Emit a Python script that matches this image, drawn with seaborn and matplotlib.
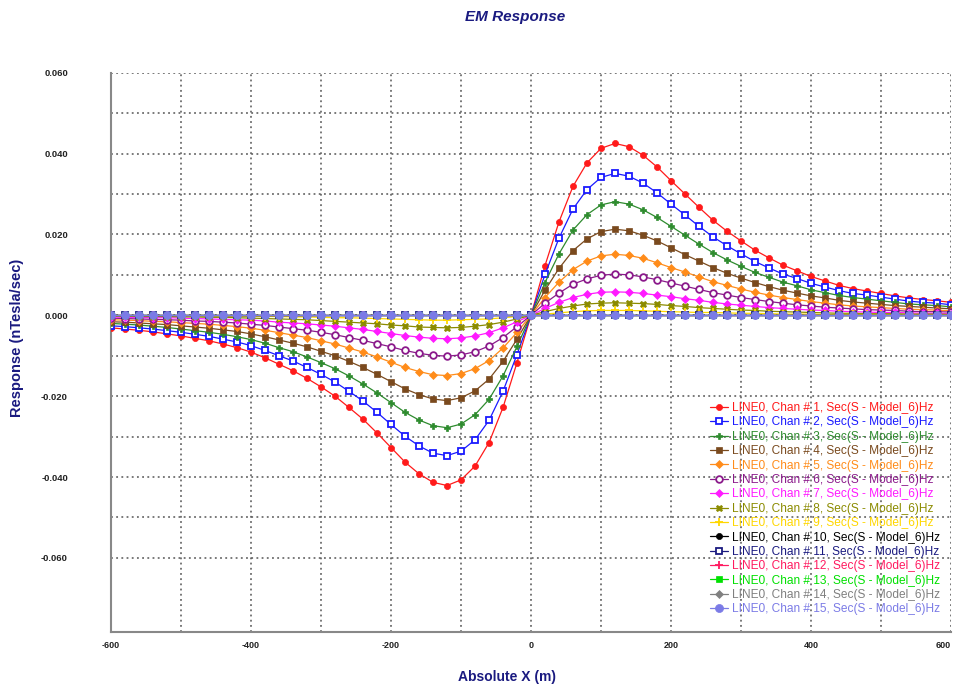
import numpy as np
import pandas as pd
import matplotlib
matplotlib.use("Agg")
import matplotlib.pyplot as plt
from matplotlib.ticker import MultipleLocator, FixedLocator, FormatStrFormatter
import seaborn as sns

# ---------------- data ----------------
x_m = list(range(-600, 601, 20))

chan1 = [-0.0031, -0.0034, -0.0037, -0.0041, -0.0046, -0.0051, -0.0057, -0.0063, -0.0071, -0.0080,
         -0.0091, -0.0105, -0.0121, -0.0137, -0.0156, -0.0177, -0.0200, -0.0228, -0.0257, -0.0291,
         -0.0327, -0.0363, -0.0392, -0.0413, -0.0421, -0.0407, -0.0373, -0.0315, -0.0228, -0.0117,
         0.0,
         0.0123, 0.0231, 0.0319, 0.0377, 0.0413, 0.0425, 0.0417, 0.0396, 0.0367, 0.0333,
         0.0300, 0.0267, 0.0235, 0.0208, 0.0184, 0.0161, 0.0142, 0.0124, 0.0110, 0.0096,
         0.0085, 0.0074, 0.0066, 0.0060, 0.0054, 0.0048, 0.0043, 0.0039, 0.0036, 0.0032]
chan2 = [-0.0026, -0.0028, -0.0031, -0.0034, -0.0038, -0.0042, -0.0047, -0.0052, -0.0059, -0.0066,
         -0.0075, -0.0087, -0.0100, -0.0113, -0.0129, -0.0146, -0.0165, -0.0188, -0.0212, -0.0240,
         -0.0270, -0.0299, -0.0323, -0.0341, -0.0347, -0.0336, -0.0308, -0.0260, -0.0188, -0.0097,
         0.0,
         0.0101, 0.0191, 0.0263, 0.0311, 0.0341, 0.0351, 0.0344, 0.0327, 0.0303, 0.0275,
         0.0248, 0.0220, 0.0194, 0.0172, 0.0152, 0.0133, 0.0117, 0.0102, 0.0091, 0.0079,
         0.0070, 0.0061, 0.0054, 0.0050, 0.0045, 0.0040, 0.0035, 0.0032, 0.0030, 0.0026]
chan3 = [-0.0020, -0.0022, -0.0024, -0.0027, -0.0030, -0.0034, -0.0038, -0.0042, -0.0047, -0.0053,
         -0.0060, -0.0069, -0.0080, -0.0090, -0.0103, -0.0117, -0.0132, -0.0150, -0.0170, -0.0192,
         -0.0216, -0.0240, -0.0259, -0.0273, -0.0278, -0.0269, -0.0246, -0.0208, -0.0150, -0.0077,
         0.0,
         0.0081, 0.0152, 0.0211, 0.0249, 0.0273, 0.0281, 0.0275, 0.0261, 0.0242, 0.0220,
         0.0198, 0.0176, 0.0155, 0.0137, 0.0121, 0.0106, 0.0094, 0.0082, 0.0073, 0.0063,
         0.0056, 0.0049, 0.0044, 0.0040, 0.0036, 0.0032, 0.0028, 0.0026, 0.0024, 0.0021]
chan4 = [-0.0016, -0.0017, -0.0019, -0.0021, -0.0023, -0.0026, -0.0029, -0.0032, -0.0036, -0.0040,
         -0.0046, -0.0053, -0.0061, -0.0069, -0.0078, -0.0089, -0.0100, -0.0114, -0.0129, -0.0146,
         -0.0164, -0.0182, -0.0196, -0.0207, -0.0211, -0.0204, -0.0187, -0.0158, -0.0114, -0.0059,
         0.0,
         0.0062, 0.0116, 0.0160, 0.0189, 0.0207, 0.0213, 0.0209, 0.0198, 0.0184, 0.0167,
         0.0150, 0.0134, 0.0118, 0.0104, 0.0092, 0.0081, 0.0071, 0.0062, 0.0055, 0.0048,
         0.0043, 0.0037, 0.0033, 0.0030, 0.0027, 0.0024, 0.0022, 0.0020, 0.0018, 0.0016]
chan5 = [-0.0011, -0.0012, -0.0013, -0.0015, -0.0016, -0.0018, -0.0020, -0.0022, -0.0025, -0.0028,
         -0.0032, -0.0037, -0.0043, -0.0049, -0.0055, -0.0063, -0.0071, -0.0081, -0.0091, -0.0103,
         -0.0116, -0.0129, -0.0139, -0.0147, -0.0149, -0.0144, -0.0132, -0.0112, -0.0081, -0.0042,
         0.0,
         0.0044, 0.0082, 0.0113, 0.0134, 0.0147, 0.0151, 0.0148, 0.0141, 0.0130, 0.0118,
         0.0107, 0.0095, 0.0083, 0.0074, 0.0065, 0.0057, 0.0050, 0.0044, 0.0039, 0.0034,
         0.0030, 0.0026, 0.0023, 0.0021, 0.0019, 0.0017, 0.0015, 0.0014, 0.0013, 0.0011]
chan6 = [-0.0007, -0.0008, -0.0009, -0.0010, -0.0011, -0.0012, -0.0014, -0.0015, -0.0017, -0.0019,
         -0.0022, -0.0025, -0.0029, -0.0033, -0.0037, -0.0042, -0.0048, -0.0055, -0.0062, -0.0070,
         -0.0078, -0.0087, -0.0094, -0.0099, -0.0101, -0.0098, -0.0090, -0.0076, -0.0055, -0.0028,
         0.0,
         0.0030, 0.0055, 0.0077, 0.0090, 0.0099, 0.0102, 0.0100, 0.0095, 0.0088, 0.0080,
         0.0072, 0.0064, 0.0056, 0.0050, 0.0044, 0.0039, 0.0034, 0.0030, 0.0026, 0.0023,
         0.0020, 0.0018, 0.0016, 0.0014, 0.0013, 0.0012, 0.0010, 0.0009, 0.0009, 0.0008]
chan7 = [-0.0004, -0.0005, -0.0005, -0.0006, -0.0006, -0.0007, -0.0008, -0.0009, -0.0010, -0.0011,
         -0.0012, -0.0014, -0.0017, -0.0019, -0.0021, -0.0024, -0.0027, -0.0031, -0.0035, -0.0040,
         -0.0045, -0.0050, -0.0054, -0.0057, -0.0058, -0.0056, -0.0051, -0.0043, -0.0031, -0.0016,
         0.0,
         0.0017, 0.0032, 0.0044, 0.0052, 0.0057, 0.0058, 0.0057, 0.0054, 0.0050, 0.0046,
         0.0041, 0.0037, 0.0032, 0.0028, 0.0025, 0.0022, 0.0019, 0.0017, 0.0015, 0.0013,
         0.0012, 0.0010, 0.0009, 0.0008, 0.0007, 0.0007, 0.0006, 0.0005, 0.0005, 0.0004]
chan8 = [-0.0002, -0.0002, -0.0003, -0.0003, -0.0003, -0.0004, -0.0004, -0.0005, -0.0005, -0.0006,
         -0.0007, -0.0008, -0.0009, -0.0010, -0.0011, -0.0013, -0.0015, -0.0017, -0.0019, -0.0021,
         -0.0024, -0.0026, -0.0029, -0.0030, -0.0031, -0.0030, -0.0027, -0.0023, -0.0017, -0.0009,
         0.0,
         0.0009, 0.0017, 0.0023, 0.0028, 0.0030, 0.0031, 0.0030, 0.0029, 0.0027, 0.0024,
         0.0022, 0.0019, 0.0017, 0.0015, 0.0013, 0.0012, 0.0010, 0.0009, 0.0008, 0.0007,
         0.0006, 0.0005, 0.0005, 0.0004, 0.0004, 0.0004, 0.0003, 0.0003, 0.0003, 0.0002]
chan9 = [-0.0001, -0.0001, -0.0001, -0.0001, -0.0001, -0.0001, -0.0002, -0.0002, -0.0002, -0.0002,
         -0.0003, -0.0003, -0.0003, -0.0004, -0.0004, -0.0005, -0.0006, -0.0006, -0.0007, -0.0008,
         -0.0009, -0.0010, -0.0011, -0.0012, -0.0012, -0.0011, -0.0010, -0.0009, -0.0006, -0.0003,
         0.0,
         0.0003, 0.0006, 0.0009, 0.0011, 0.0012, 0.0012, 0.0012, 0.0011, 0.0010, 0.0009,
         0.0008, 0.0007, 0.0007, 0.0006, 0.0005, 0.0005, 0.0004, 0.0003, 0.0003, 0.0003,
         0.0002, 0.0002, 0.0002, 0.0002, 0.0002, 0.0001, 0.0001, 0.0001, 0.0001, 0.0001]
chan_flat = [0.0] * 61   # channels 10-15 lie on the zero line
chan10 = chan_flat
chan11 = chan_flat
chan12 = chan_flat
chan13 = chan_flat
chan14 = chan_flat
chan15 = chan_flat

series = [chan1, chan2, chan3, chan4, chan5, chan6, chan7, chan8, chan9,
          chan10, chan11, chan12, chan13, chan14, chan15]
labels = [f"LINE0, Chan # {i}, Sec(S - Model_6)Hz" for i in range(1, 16)]
x_ticks = [-600, -400, -200, 0, 200, 400, 600]
y_ticks = [-0.06, -0.04, -0.02, 0.0, 0.02, 0.04, 0.06]

# ---------------- styles ----------------
colors = ["#ff1a1a", "#1a1aff", "#2e8b2e", "#7a4a1e", "#ff8c1a", "#8b1a8b", "#ff1aff",
          "#8b8b00", "#ffd700", "#000000", "#1a1a80", "#ff1a60", "#00e000", "#808080", "#7b7be6"]
markers = ["o", "s", "P", "s", "D", "o", "D", "X", "+", "o", "s", "+", "s", "D", "o"]
msizes = [4.4, 5.0, 4.6, 4.4, 4.4, 4.8, 4.4, 4.4, 6.0, 4.4, 5.0, 6.0, 4.4, 4.4, 5.8]
hollow = [False, True, False, False, False, True, False, False, False, False, True,
          False, False, False, False]

sns.set_style("white")
plt.rcParams["font.family"] = ["Liberation Sans", "DejaVu Sans"]

fig = plt.figure(figsize=(9.56, 6.87), dpi=100)
ax = fig.add_axes([111 / 956, 1 - 631.5 / 687, 840 / 956, (631.5 - 72.7) / 687])

for vals, lab, c, m, ms, h in zip(series, labels, colors, markers, msizes, hollow):
    df = pd.DataFrame({"x": x_m, "y": vals})
    sns.lineplot(data=df, x="x", y="y", ax=ax, color=c, marker=m, markersize=ms,
                 linewidth=0.9, markeredgecolor=c,
                 markerfacecolor=("white" if h else c),
                 markeredgewidth=(1.3 if (h or m == "+") else 0.5),
                 label=lab, zorder=3)

ax.set_xlim(-600, 600)
ax.set_ylim(-0.0782, 0.060)

ax.xaxis.set_major_locator(FixedLocator(x_ticks))
ax.xaxis.set_minor_locator(FixedLocator([-500, -300, -100, 100, 300, 500]))
ax.yaxis.set_major_locator(FixedLocator(y_ticks))
ax.yaxis.set_minor_locator(FixedLocator([-0.05, -0.03, -0.01, 0.01, 0.03, 0.05]))
ax.yaxis.set_major_formatter(FormatStrFormatter("%.3f"))
ax.xaxis.set_major_formatter(FormatStrFormatter("%d"))

ax.grid(True, which="both", color="#555555", linestyle=(0, (1.2, 2.2)), linewidth=1.1)
ax.set_axisbelow(True)

ax.tick_params(axis="both", which="both", direction="in", color="#888888")
ax.tick_params(axis="both", which="major", length=9, width=1.3)
ax.tick_params(axis="both", which="minor", length=7, width=1.3)
ax.tick_params(axis="y", which="major", labelsize=6.8, pad=31, labelcolor="#222222")
ax.tick_params(axis="x", which="major", labelsize=6.5, pad=7, labelcolor="#222222")
for t in ax.get_yticklabels():
    t.set_fontweight("bold")
for t in ax.get_xticklabels():
    t.set_fontweight("bold")
# keep the right-most x label inside the canvas
xl = ax.get_xticklabels()
xl[-1].set_horizontalalignment("right")
xl[-1].set_x(600)

for side in ["top", "right"]:
    ax.spines[side].set_visible(False)
for side in ["left", "bottom"]:
    ax.spines[side].set_color("#888888")
    ax.spines[side].set_linewidth(1.5)

ax.set_xlabel("")
ax.set_ylabel("")

navy = "#1a1a80"
fig.text(515 / 956, 1 - 17 / 687, "EM Response", ha="center", va="center",
         fontsize=11, fontweight="bold", fontstyle="italic", color=navy)
fig.text(507 / 956, 1 - 677 / 687, "Absolute X (m)", ha="center", va="center",
         fontsize=10, fontweight="bold", color=navy)
fig.text(17 / 956, 1 - 338 / 687, "Response (nTesla/sec)", ha="center", va="center",
         rotation=90, fontsize=10.5, fontweight="bold", color=navy)

handles, labs = ax.get_legend_handles_labels()
leg = ax.legend(handles, labs, loc="upper left",
                bbox_to_anchor=(710 / 956, 1 - 402 / 687), bbox_transform=fig.transFigure,
                frameon=False, fontsize=8.6, labelcolor="linecolor",
                handlelength=1.5, handletextpad=0.3, labelspacing=0.2,
                borderaxespad=0, borderpad=0)

fig.savefig("out.png", dpi=100)
